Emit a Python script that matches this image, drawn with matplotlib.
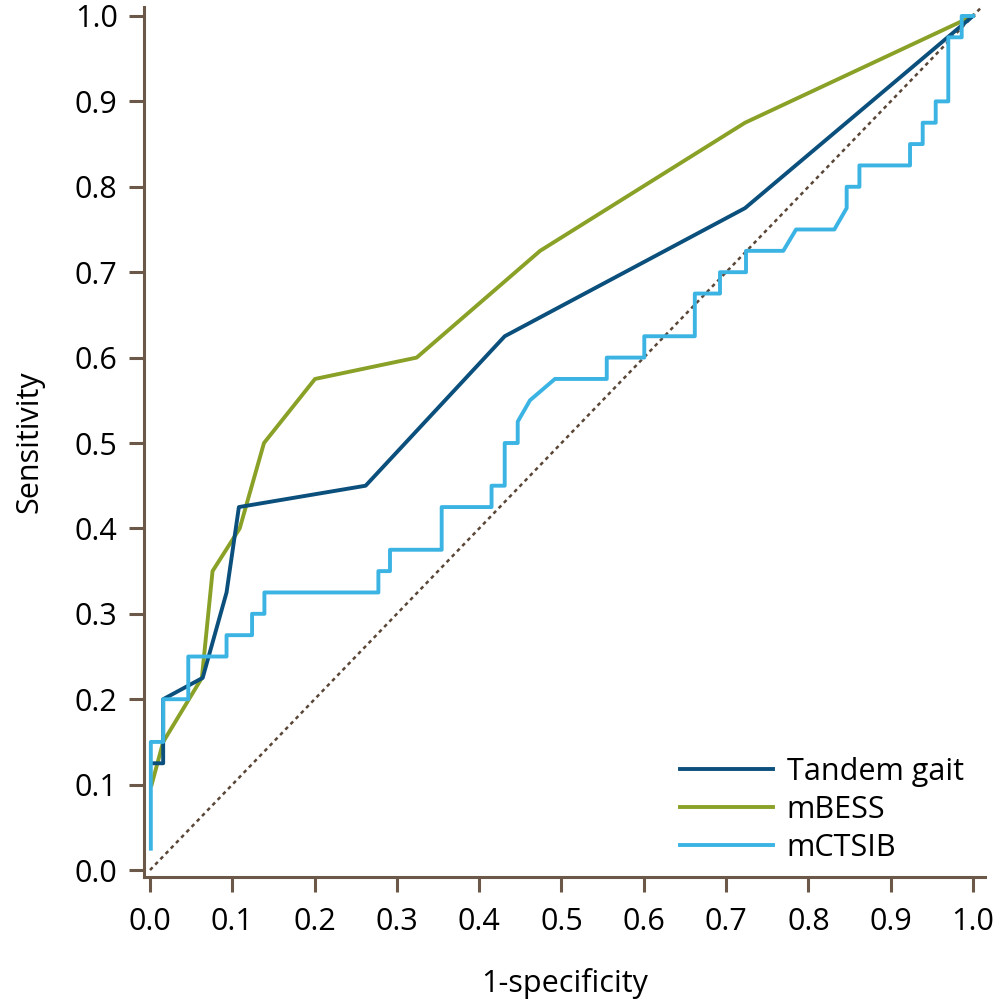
import matplotlib
matplotlib.use("Agg")
import matplotlib.pyplot as plt

# --- Podatki (odcitano s slike) ------------------------------------------------

tandem_x = [0.002, 0.016, 0.016, 0.064, 0.093, 0.108, 0.262, 0.431, 0.723, 1.0]
tandem_y = [0.125, 0.125, 0.200, 0.225, 0.325, 0.425, 0.450, 0.625, 0.775, 1.0]

mbess_x = [0.002, 0.016, 0.063, 0.076, 0.109, 0.1385, 0.2005, 0.324, 0.474, 0.723, 1.0]
mbess_y = [0.100, 0.150, 0.225, 0.350, 0.400, 0.500, 0.575, 0.600, 0.725, 0.875, 1.0]

mctsib_x = [0.001, 0.001, 0.016, 0.016, 0.0465, 0.0465, 0.093, 0.093, 0.124, 0.124,
            0.139, 0.139, 0.2775, 0.2775, 0.2916, 0.2916, 0.3544, 0.3544, 0.415, 0.415,
            0.431, 0.431, 0.4468, 0.4468, 0.4617, 0.492, 0.555, 0.555, 0.6006, 0.6006,
            0.662, 0.662, 0.6926, 0.6926, 0.7242, 0.7242, 0.7695, 0.785, 0.8315, 0.8465,
            0.8465, 0.862, 0.862, 0.9235, 0.9235, 0.9389, 0.9389, 0.9547, 0.9547, 0.970,
            0.970, 0.9863, 0.9863, 1.0]
mctsib_y = [0.025, 0.150, 0.150, 0.200, 0.200, 0.250, 0.250, 0.275, 0.275, 0.300,
            0.300, 0.325, 0.325, 0.350, 0.350, 0.375, 0.375, 0.425, 0.425, 0.450,
            0.450, 0.500, 0.500, 0.525, 0.550, 0.575, 0.575, 0.600, 0.600, 0.625,
            0.625, 0.675, 0.675, 0.700, 0.700, 0.725, 0.725, 0.750, 0.750, 0.775,
            0.800, 0.800, 0.825, 0.825, 0.850, 0.850, 0.875, 0.875, 0.900, 0.900,
            0.975, 0.975, 1.000, 1.000]

ref_x = [0.0, 1.012]
ref_y = [0.0, 1.012]

ticks = [0.0, 0.1, 0.2, 0.3, 0.4, 0.5, 0.6, 0.7, 0.8, 0.9, 1.0]

# --- Izris ---------------------------------------------------------------------

plt.rcParams["font.family"] = ["Open Sans", "DejaVu Sans"]

RJAVA = "#6b5848"
VEL = 22

fig = plt.figure(figsize=(10, 10.01), dpi=100)
ax = fig.add_axes([0.144, (1001 - 876.7) / 1001, 0.985 - 0.144, (876.7 - 7) / 1001])

ax.plot(ref_x, ref_y, color="#5a4636", lw=1.8, linestyle=(0, (1.5, 1.5)), zorder=1)
ax.plot(tandem_x, tandem_y, color="#0b4f7c", lw=2.8, label="Tandem gait", zorder=3)
ax.plot(mbess_x, mbess_y, color="#8aa127", lw=2.8, label="mBESS", zorder=2)
ax.plot(mctsib_x, mctsib_y, color="#3bb4e4", lw=2.8, label="mCTSIB", zorder=4)

ax.set_xlim(-0.0073, 1.0146)
ax.set_ylim(-0.0078, 1.0105)
ax.set_xticks(ticks)
ax.set_yticks(ticks)
ax.set_xticklabels([f"{t:.1f}" for t in ticks])
ax.set_yticklabels([f"{t:.1f}" for t in ticks])

for s in ["top", "right"]:
    ax.spines[s].set_visible(False)
for s in ["left", "bottom"]:
    ax.spines[s].set_color(RJAVA)
    ax.spines[s].set_linewidth(2.2)

ax.tick_params(axis="x", length=11, width=2.2, color=RJAVA, labelsize=VEL, pad=11)
ax.tick_params(axis="y", length=11, width=2.2, color=RJAVA, labelsize=VEL, pad=8)

ax.set_xlabel("1-specificity", fontsize=VEL, labelpad=22)
ax.set_ylabel("Sensitivity", fontsize=VEL, labelpad=22)

ax.legend(loc="lower left", frameon=False, fontsize=VEL, handlelength=3.04,
          handletextpad=0.46, labelspacing=0.26, borderpad=0, borderaxespad=0,
          bbox_to_anchor=(0.637, 0.016))

fig.savefig("out.png", dpi=100)
